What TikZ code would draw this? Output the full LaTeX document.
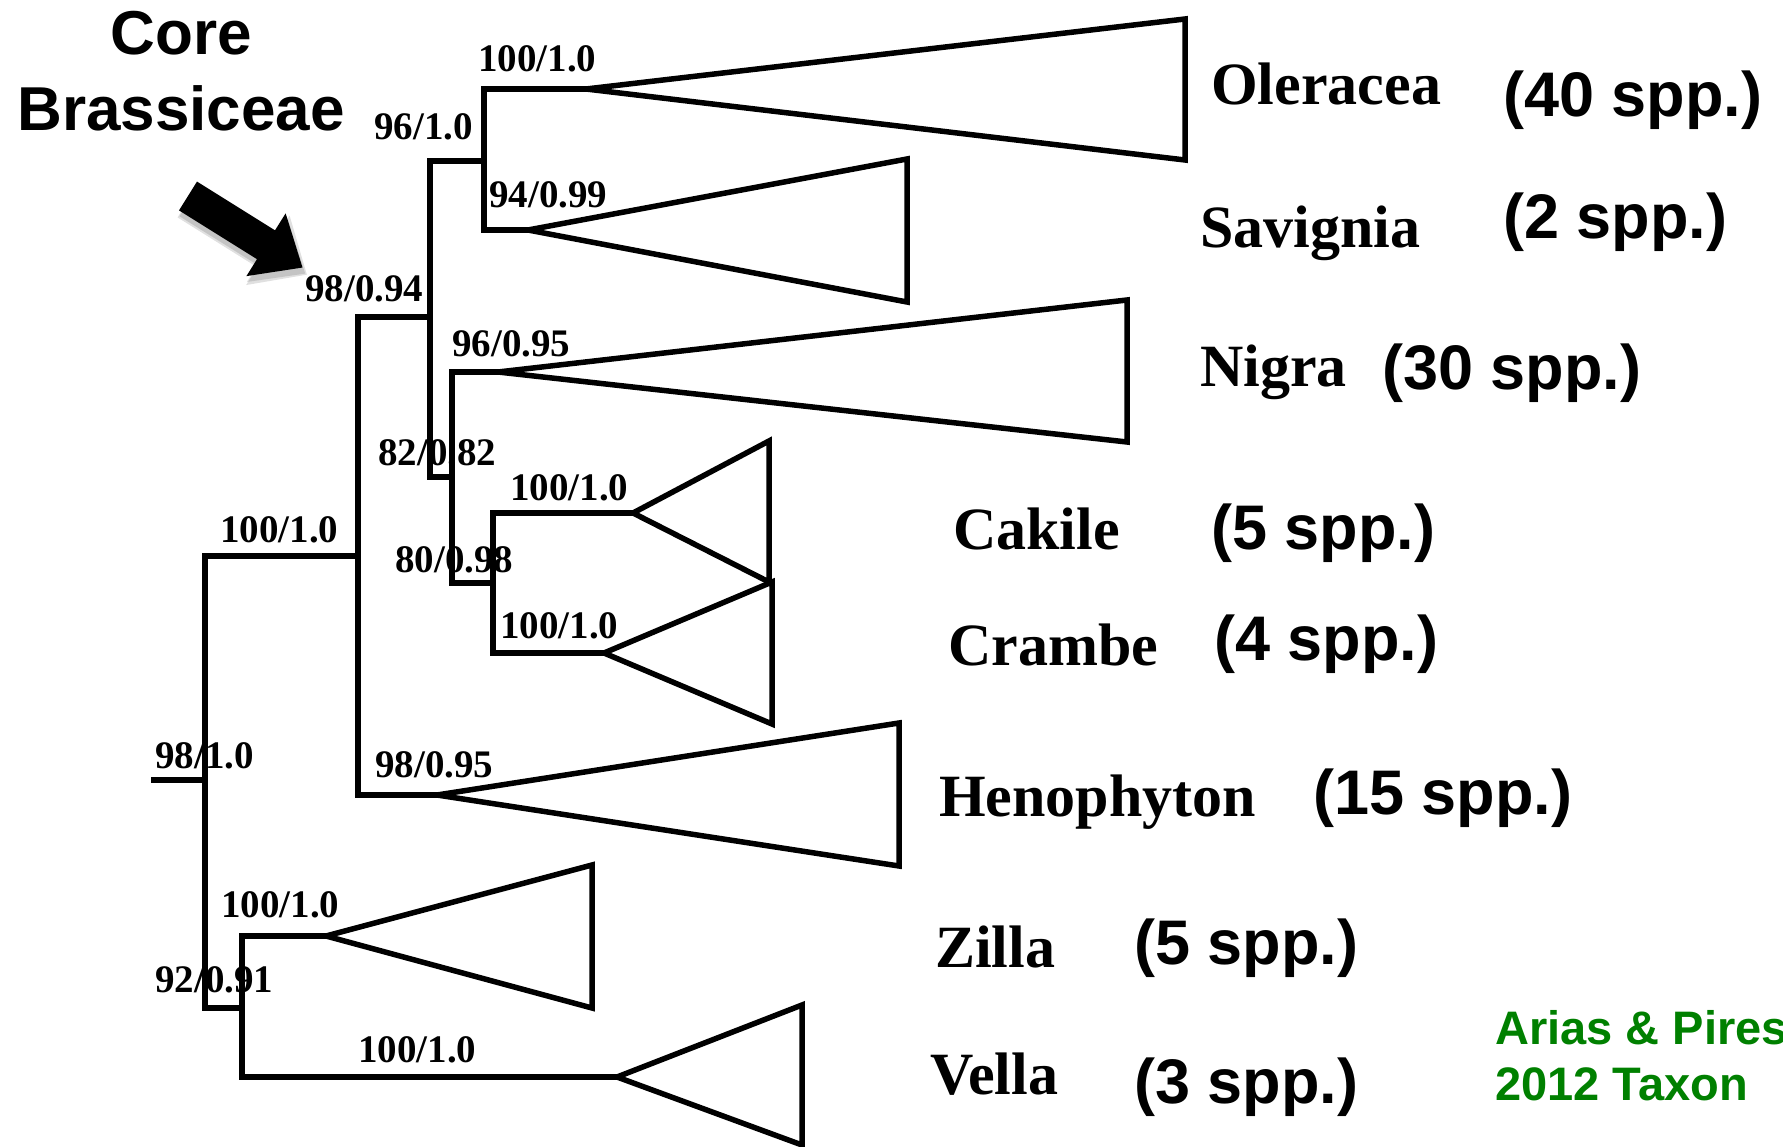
\documentclass[tikz,border=0pt]{standalone}
\usepackage{fontspec}
\setmainfont{Liberation Serif}
\setsansfont{Liberation Sans}
\definecolor{refgreen}{RGB}{0,128,0}
\tikzset{
  br/.style={line width=5.5pt, line join=miter, line cap=butt},
  tri/.style={line width=5.5pt, line join=miter},
  lab/.style={font=\fontsize{39}{39}\selectfont\bfseries, anchor=base west, inner sep=0pt},
  taxon/.style={font=\fontsize{60}{60}\selectfont\bfseries, anchor=base west, inner sep=0pt},
  spp/.style={font=\sffamily\fontsize{63}{63}\selectfont\bfseries, anchor=base west, inner sep=0pt},
  core/.style={font=\sffamily\fontsize{62}{62}\selectfont\bfseries, anchor=base, inner sep=0pt},
  cite/.style={font=\sffamily\fontsize{47}{47}\selectfont\bfseries, text=refgreen, anchor=base west, inner sep=0pt}
}
\begin{document}
\begin{tikzpicture}[x=1pt,y=-1pt]
\useasboundingbox (0,0) rectangle (1783,1147);
\fill[white] (0,0) rectangle (1783,1147);

% ---- tree coordinates ----
\coordinate (rootL) at (151,780);
\coordinate (rootX) at (205,780);
\coordinate (rT) at (205,556);
\coordinate (rB) at (205,1008);
\coordinate (bM) at (358,556);
\coordinate (bT) at (358,317);
\coordinate (bB) at (358,795);
\coordinate (henTip) at (437,795);
\coordinate (cM) at (430,317);
\coordinate (cT) at (430,161);
\coordinate (cB) at (430,477);
\coordinate (dM) at (484,161);
\coordinate (dT) at (484,89);
\coordinate (dB) at (484,230);
\coordinate (oleTip) at (586,89);
\coordinate (savTip) at (528,230);
\coordinate (eM) at (452,477);
\coordinate (eT) at (452,372);
\coordinate (eB) at (452,583);
\coordinate (nigTip) at (498,372);
\coordinate (fM) at (493,583);
\coordinate (fT) at (493,513);
\coordinate (fB) at (493,653);
\coordinate (cakTip) at (633,513);
\coordinate (craTip) at (604,653);
\coordinate (gM) at (242,1008);
\coordinate (gT) at (242,936);
\coordinate (gB) at (242,1077);
\coordinate (zilTip) at (326,936);
\coordinate (velTip) at (617,1077);

% ---- branches ----
\draw[br] (rootL) -- (rootX);
\draw[br] (bM) -- (rT) -- (rB) -- (gM);
\draw[br] (cM) -- (bT) -- (bB) -- (henTip);
\draw[br] (dM) -- (cT) -- (cB) -- (eM);
\draw[br] (oleTip) -- (dT) -- (dB) -- (savTip);
\draw[br] (nigTip) -- (eT) -- (eB) -- (fM);
\draw[br] (cakTip) -- (fT) -- (fB) -- (craTip);
\draw[br] (zilTip) -- (gT) -- (gB) -- (velTip);

% ---- collapsed clades ----
\draw[tri] (oleTip) -- (1185,19) -- (1185,160) -- cycle;
\draw[tri] (savTip) -- (907,159) -- (907,302) -- cycle;
\draw[tri] (nigTip) -- (1127,300) -- (1127,442) -- cycle;
\draw[tri] (cakTip) -- (769,441) -- (769,582) -- cycle;
\draw[tri] (craTip) -- (772,582) -- (772,724) -- cycle;
\draw[tri] (henTip) -- (899,723) -- (899,866) -- cycle;
\draw[tri] (zilTip) -- (592,865) -- (592,1008) -- cycle;
\draw[tri] (velTip) -- (802,1005) -- (802,1145) -- cycle;

% ---- support labels ----
\node[lab] (l1) at (478,72) {100/1.0};
\node[lab] (l2) at (374,140) {96/1.0};
\node[lab] (l3) at (489,208) {94/0.99};
\node[lab] (l4) at (305,302) {98/0.94};
\node[lab] (l5) at (452,357) {96/0.95};
\node[lab] (l6) at (378,465) {82/0.82};
\node[lab] (l7) at (510,500) {100/1.0};
\node[lab] (l8) at (220,542) {100/1.0};
\node[lab] (l9) at (395,572) {80/0.98};
\node[lab] (l10) at (500,638) {100/1.0};
\node[lab] (l11) at (155,768) {98/1.0};
\node[lab] (l12) at (375,777) {98/0.95};
\node[lab] (l13) at (221,917) {100/1.0};
\node[lab] (l14) at (155,992) {92/0.91};
\node[lab] (l15) at (358,1062) {100/1.0};

% ---- taxon names ----
\node[taxon] (tOle) at (1211,105) {Oleracea};
\node[spp]   (sOle) at (1503,117) {(40 spp.)};
\node[taxon] (tSav) at (1200,248) {Savignia};
\node[spp]   (sSav) at (1503,239) {(2 spp.)};
\node[taxon] (tNig) at (1200,387) {Nigra};
\node[spp]   (sNig) at (1382,389) {(30 spp.)};
\node[taxon] (tCak) at (953,549) {Cakile};
\node[spp]   (sCak) at (1211,549) {(5 spp.)};
\node[taxon] (tCra) at (948,665) {Crambe};
\node[spp]   (sCra) at (1214,660) {(4 spp.)};
\node[taxon] (tHen) at (939,816) {Henophyton};
\node[spp]   (sHen) at (1313,814) {(15 spp.)};
\node[taxon] (tZil) at (935,967) {Zilla};
\node[spp]   (sZil) at (1134,964) {(5 spp.)};
\node[taxon] (tVel) at (930,1094) {Vella};
\node[spp]   (sVel) at (1134,1103) {(3 spp.)};

% ---- Core Brassiceae ----
\node[core] (core1) at (181,55) {Core};
\node[core] (core2) at (181,131) {Brassiceae};

% ---- arrow with soft shadow ----
\begin{scope}[shift={(189,201)}, rotate=-32]
  \fill[black, opacity=0.12] (-1,-20) -- (93,-20) -- (93,-41) -- (139,0) -- (93,41) -- (93,20) -- (-1,20) -- cycle;
  \fill[black, opacity=0.12] (0,-18) -- (92,-18) -- (92,-38) -- (137,0) -- (92,38) -- (92,18) -- (0,18) -- cycle;
\end{scope}
\begin{scope}[shift={(188,196)}, rotate=-32]
  \fill[black] (0,-17) -- (92,-17) -- (92,-37) -- (135,0) -- (92,37) -- (92,17) -- (0,17) -- cycle;
\end{scope}

% ---- citation (cut at the right edge, as in the reference) ----
\node[cite] (cite1) at (1495,1044) {Arias \& Pires};
\node[cite] (cite2) at (1495,1100) {2012 Taxon};
\end{tikzpicture}
\end{document}
